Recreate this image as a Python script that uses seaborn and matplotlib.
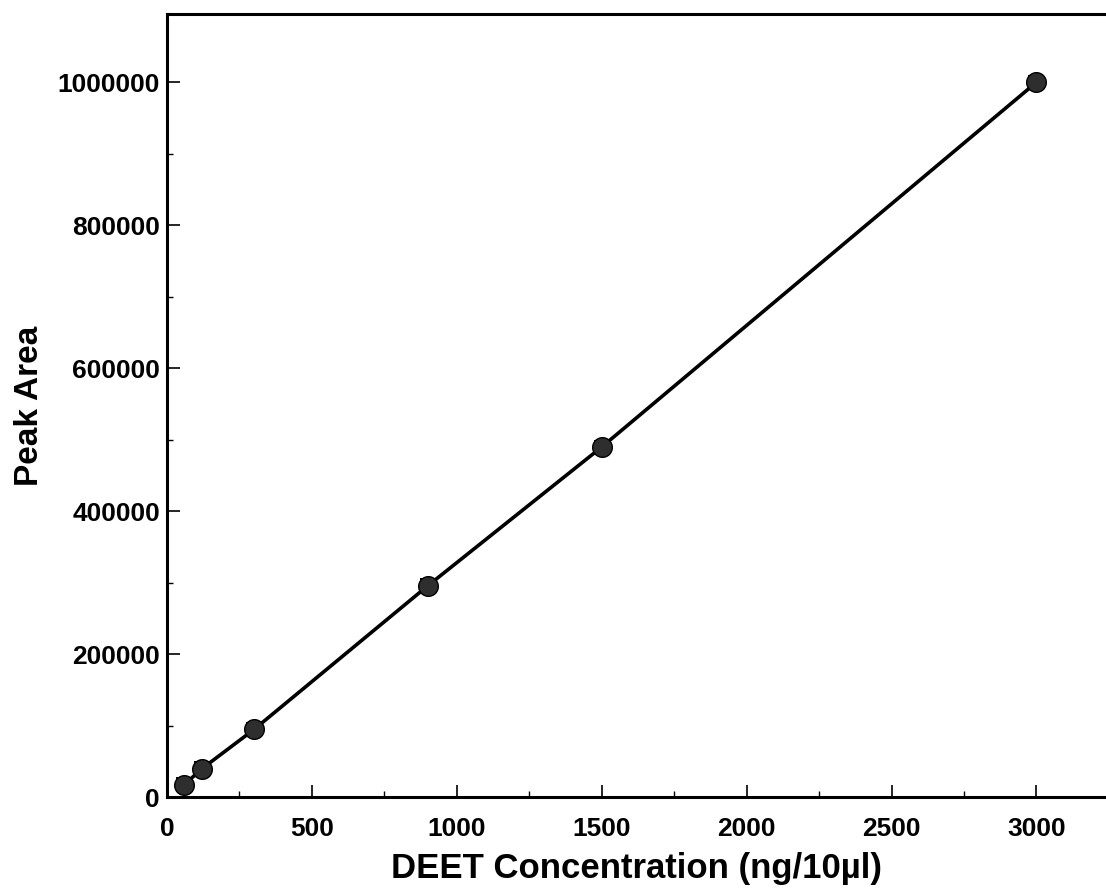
import matplotlib
matplotlib.use("Agg")
import matplotlib.pyplot as plt
from matplotlib.ticker import MultipleLocator
import seaborn as sns
import pandas as pd

# DEET calibration standards
concentration = [60, 120, 300, 900, 1500, 3000]
peak_area = [18000, 40000, 95000, 296000, 490000, 1000000]
peak_area_err = [9000, 9000, 9000, 9000, 9000, 9000]

x_ticks = [0, 500, 1000, 1500, 2000, 2500, 3000]
y_ticks = [0, 200000, 400000, 600000, 800000, 1000000]

sns.set_style("ticks")
plt.rcParams["font.family"] = ["Liberation Sans", "DejaVu Sans"]
plt.rcParams["font.weight"] = "bold"
plt.rcParams["text.color"] = "black"
plt.rcParams["axes.labelcolor"] = "black"
plt.rcParams["xtick.color"] = "black"
plt.rcParams["ytick.color"] = "black"

df = pd.DataFrame({"conc": concentration, "area": peak_area})

fig = plt.figure(figsize=(11.06, 8.96), dpi=100)
ax = fig.add_axes([0.151, 0.110, 0.849, 0.874])

ax.errorbar(concentration, peak_area, yerr=peak_area_err, fmt="none",
            ecolor="black", elinewidth=1.2, capsize=6, capthick=1.4, zorder=2)
sns.lineplot(data=df, x="conc", y="area", ax=ax, color="black",
             linewidth=2.6, zorder=3)
sns.scatterplot(data=df, x="conc", y="area", ax=ax, s=200, color="#2e2e2e",
                edgecolor="black", linewidth=1.0, zorder=4)

ax.set_xlim(0, 3240)
ax.set_ylim(0, 1095000)
ax.set_xticks(x_ticks)
ax.set_yticks(y_ticks)
ax.set_xticklabels([str(v) for v in x_ticks])
ax.set_yticklabels([str(v) for v in y_ticks])
ax.xaxis.set_minor_locator(MultipleLocator(250))
ax.yaxis.set_minor_locator(MultipleLocator(100000))

ax.tick_params(axis="both", which="major", direction="in", length=9,
               width=1.2, labelsize=19, colors="black")
ax.tick_params(axis="both", which="minor", direction="in", length=4.5,
               width=1.0, colors="black")
ax.tick_params(axis="x", which="major", pad=14)
ax.tick_params(axis="y", which="major", pad=5)
for lab in ax.get_xticklabels() + ax.get_yticklabels():
    lab.set_fontweight("bold")

for side in ("left", "bottom", "top"):
    ax.spines[side].set_linewidth(2.2)
    ax.spines[side].set_color("black")
ax.spines["right"].set_visible(False)

ax.set_xlabel("DEET Concentration (ng/10\u00b5l)", fontsize=25,
              fontweight="bold", labelpad=8)
ax.set_ylabel("Peak Area", fontsize=24, fontweight="bold", labelpad=9)

fig.savefig("out.png", dpi=100)
